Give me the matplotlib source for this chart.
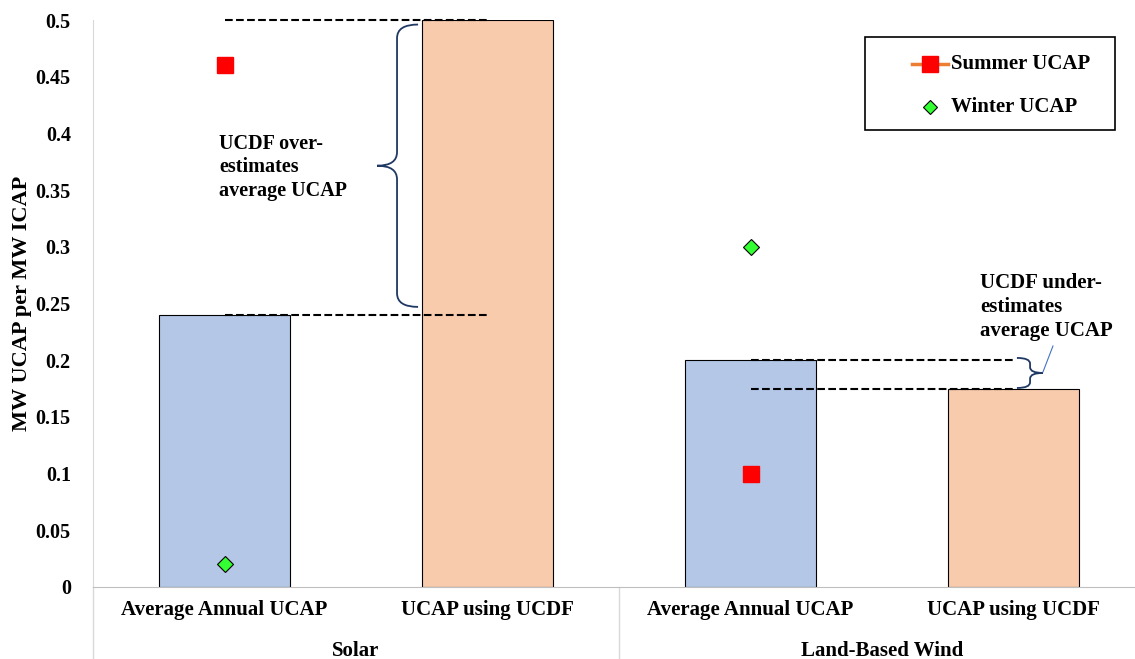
import numpy as np
import matplotlib.pyplot as plt
from matplotlib.path import Path
from matplotlib.patches import PathPatch, Rectangle
from matplotlib.lines import Line2D
import matplotlib.transforms as mtransforms

plt.rcParams['font.family'] = 'Liberation Serif'
plt.rcParams['font.weight'] = 'bold'

categories = ['Average Annual UCAP', 'UCAP using UCDF', 'Average Annual UCAP', 'UCAP using UCDF']
groups = ['Solar', 'Land-Based Wind']
bar_values = [0.24, 0.5, 0.2, 0.175]
bar_colors = ['#B4C7E7', '#F8CBAD', '#B4C7E7', '#F8CBAD']
summer_x = [0, 2]
summer_ucap = [0.46, 0.1]
winter_x = [0, 2]
winter_ucap = [0.02, 0.3]
y_ticks = [0, 0.05, 0.1, 0.15, 0.2, 0.25, 0.3, 0.35, 0.4, 0.45, 0.5]
y_tick_labels = ['0', '0.05', '0.1', '0.15', '0.2', '0.25', '0.3', '0.35', '0.4', '0.45', '0.5']

W, H = 1135, 659
fig = plt.figure(figsize=(W / 100, H / 100), dpi=100)
ax = fig.add_axes([93 / W, 1 - 587 / H, (1145 - 93) / W, (587 - 20) / H])

x = np.arange(len(categories))
ax.bar(x, bar_values, width=0.5, color=bar_colors, edgecolor='black', linewidth=0.8, zorder=2)

ax.plot(summer_x, summer_ucap, linestyle='none', marker='s', markersize=12,
        color='#FF0000', zorder=4)
ax.plot(winter_x, winter_ucap, linestyle='none', marker='D', markersize=8,
        markerfacecolor='#33FF33', markeredgecolor='black', markeredgewidth=0.8, zorder=4)

ax.set_xlim(-0.5, 3.5)
ax.set_ylim(0, 0.5)
ax.set_yticks(y_ticks)
ax.set_yticklabels(y_tick_labels, fontsize=14.5, fontweight='bold')
ax.tick_params(axis='y', length=0, pad=16)
ax.set_xticks(x)
ax.set_xticklabels(categories, fontsize=15, fontweight='bold')
ax.tick_params(axis='x', length=0, pad=9)
ax.set_ylabel('MW UCAP per MW ICAP', fontsize=16, fontweight='bold')
ax.yaxis.set_label_coords(-0.058, 0.5)

for s in ['top', 'right']:
    ax.spines[s].set_visible(False)
ax.spines['left'].set_color('#D9D9D9')
ax.spines['bottom'].set_color('#BFBFBF')

# group separators and labels
trans = mtransforms.blended_transform_factory(ax.transData, ax.transAxes)
for sx in [-0.5, 1.5, 3.5]:
    ax.plot([sx, sx], [0, -0.14], color='#D9D9D9', linewidth=1, transform=trans, clip_on=False)
for gx, g in zip([0.5, 2.5], groups):
    ax.text(gx, -0.112, g, transform=trans, ha='center', va='center', fontsize=15, fontweight='bold')

# dashed reference lines
ax.plot([0, 1], [bar_values[1], bar_values[1]], 'k--', linewidth=1.5, zorder=3, clip_on=False)
ax.plot([0, 1], [bar_values[0], bar_values[0]], 'k--', linewidth=1.5, zorder=3)
ax.plot([2, 3], [bar_values[2], bar_values[2]], 'k--', linewidth=1.5, zorder=3)
ax.plot([2, 3], [bar_values[3], bar_values[3]], 'k--', linewidth=1.5, zorder=3)


def brace(ax, spine, end, tip, y0, y1, r):
    ym = (y0 + y1) / 2
    verts = [(end, y1), (spine, y1), (spine, y1 - r),
             (spine, ym + r),
             (spine, ym), (tip, ym),
             (spine, ym), (spine, ym - r),
             (spine, y0 + r),
             (spine, y0), (end, y0)]
    codes = [Path.MOVETO, Path.CURVE3, Path.CURVE3,
             Path.LINETO,
             Path.CURVE3, Path.CURVE3,
             Path.CURVE3, Path.CURVE3,
             Path.LINETO,
             Path.CURVE3, Path.CURVE3]
    ax.add_patch(PathPatch(Path(verts, codes), facecolor='none', edgecolor='#1F3864',
                           linewidth=1.3, zorder=3))


brace(ax, 0.656, 0.736, 0.58, 0.247, 0.496, 0.012)
brace(ax, 3.063, 3.013, 3.112, 0.1755, 0.202, 0.005)
ax.plot([3.112, 3.15], [0.1896, 0.2125], color='#4472C4', linewidth=0.8, zorder=3)

ax.text(-0.02, 0.37, 'UCDF over-\nestimates\naverage UCAP', ha='left', va='center',
        fontsize=14.5, fontweight='bold', linespacing=1.25)
ax.text(2.873, 0.247, 'UCDF under-\nestimates\naverage UCAP', ha='left', va='center',
        fontsize=15, fontweight='bold', linespacing=1.25)

# legend box drawn by hand in figure pixels
def fx(px):
    return px / W


def fy(py):
    return 1 - py / H


fig.patches.append(Rectangle((fx(865), fy(130)), fx(1115) - fx(865), fy(37) - fy(130),
                             transform=fig.transFigure, facecolor='white',
                             edgecolor='black', linewidth=1.2, zorder=5))
fig.add_artist(Line2D([fx(912), fx(948)], [fy(64), fy(64)], color='#ED7D31', linewidth=2.5,
                      transform=fig.transFigure, zorder=6))
fig.add_artist(Line2D([fx(930)], [fy(64)], linestyle='none', marker='s', markersize=11,
                      color='#FF0000', transform=fig.transFigure, zorder=7))
fig.add_artist(Line2D([fx(930)], [fy(107)], linestyle='none', marker='D', markersize=7,
                      markerfacecolor='#33FF33', markeredgecolor='black', markeredgewidth=0.8,
                      transform=fig.transFigure, zorder=7))
fig.text(fx(951), fy(64), 'Summer UCAP', ha='left', va='center', fontsize=15,
         fontweight='bold', zorder=7)
fig.text(fx(951), fy(107), 'Winter UCAP', ha='left', va='center', fontsize=15,
         fontweight='bold', zorder=7)

fig.savefig('out.png', dpi=100)
